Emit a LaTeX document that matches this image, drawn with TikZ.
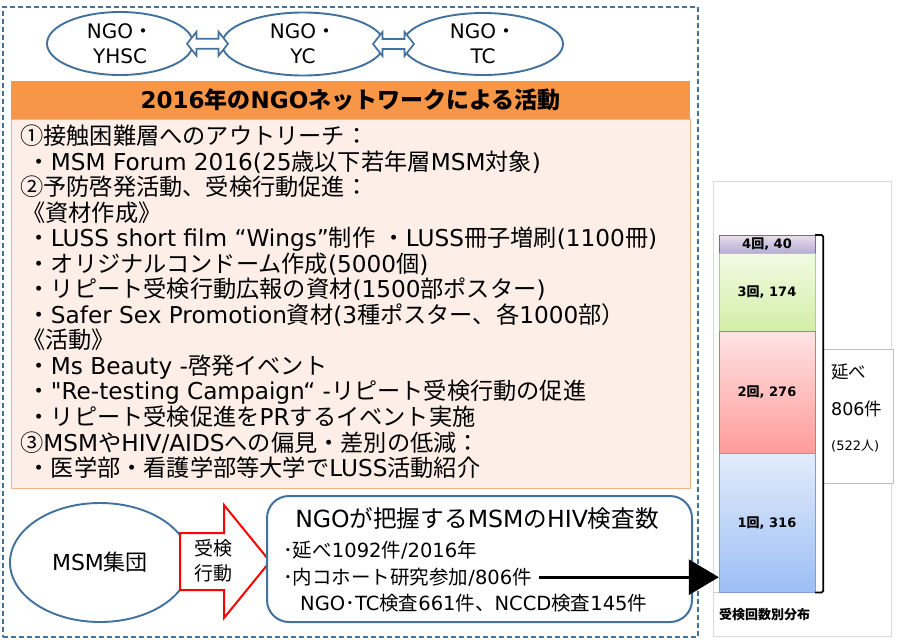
\documentclass[tikz,border=0pt]{standalone}
\usepackage{fontspec}
\setmainfont{DejaVu Sans}
\newfontfamily\plainlat{DejaVu Sans}
\newfontfamily\cjkfont{Noto Sans CJK JP}
\usetikzlibrary{shapes.geometric,arrows.meta,calc}
% automatic switch to the CJK font for CJK characters
\XeTeXinterchartokenstate=1
\newXeTeXintercharclass\cjkcls
\newcount\cjkcc
\def\setcjkrange#1#2{\cjkcc=#1\relax\loop\XeTeXcharclass\cjkcc=\cjkcls\relax\ifnum\cjkcc<#2\relax\advance\cjkcc by 1\repeat}
\setcjkrange{"2460}{"24FF}
\setcjkrange{"3000}{"30FF}
\setcjkrange{"3400}{"9FFF}
\setcjkrange{"FF00}{"FFEF}
\XeTeXinterchartoks 0 \cjkcls = {\cjkfont}
\XeTeXinterchartoks 4095 \cjkcls = {\cjkfont}
\XeTeXinterchartoks \cjkcls 0 = {\rmfamily}
\XeTeXinterchartoks \cjkcls 4095 = {\rmfamily}

\definecolor{nbl}{HTML}{41719C}
\definecolor{orng}{HTML}{F79646}
\definecolor{pinkbg}{HTML}{FDEEE8}
\definecolor{pinkbd}{HTML}{F4B183}
\definecolor{redar}{HTML}{FF0000}

\tikzset{
  ell/.style={ellipse, draw=nbl, line width=1.9pt, fill=white, inner sep=0pt},
  elltext/.style={align=center, inner sep=0pt, font=\fontsize{20}{25}\selectfont},
  dblarr/.style={draw=nbl, line width=1.7pt, fill=white, line join=miter},
  bodyline/.style={anchor=base west, inner sep=0pt, font=\fontsize{23.2}{26}\selectfont},
  boxline/.style={anchor=base west, inner sep=0pt, font=\fontsize{19.5}{23}\selectfont},
  seg/.style={draw, anchor=north, minimum width=96pt, inner sep=0pt, font=\bfseries\fontsize{13}{14}\selectfont},
  labtext/.style={anchor=west, inner sep=0pt},
}

\begin{document}
\begin{tikzpicture}[x=1pt,y=-1pt]
\useasboundingbox (0,0) rectangle (904,643);

% outer dashed frame
\node[draw=nbl, line width=1.8pt, dash pattern=on 5pt off 3pt, minimum width=695pt, minimum height=630pt, inner sep=0pt] (outer) at (350.5,322) {};

% NGO ellipses
\node[ell, minimum width=146pt, minimum height=63pt] (e1) at (120,43.5) {};
\node[ell, minimum width=162pt, minimum height=63pt] (e2) at (303,44) {};
\node[ell, minimum width=160pt, minimum height=62pt] (e3) at (483,44) {};
\node[elltext] (t1) at (e1.center) {NGO・\\YHSC};
\node[elltext] (t2) at (e2.center) {NGO・\\YC};
\node[elltext] (t3) at (e3.center) {NGO・\\TC};

% double arrows between ellipses
\coordinate (d1) at ($(e1.east)!0.5!(e2.west)$);
\coordinate (d2) at ($(e2.east)!0.5!(e3.west)$);
\foreach \d in {d1,d2}{
  \draw[dblarr] (\d) ++(-20.5,0) -- ++(9.5,-12) -- ++(0,7) -- ++(22,0) -- ++(0,-7)
     -- ++(9.5,12) -- ++(-9.5,12) -- ++(0,-7) -- ++(-22,0) -- ++(0,7) -- cycle;
}

% header and body box
\node[fill=orng, minimum width=679pt, minimum height=38pt, inner sep=0pt, anchor=north west,
      font=\bfseries\fontsize{23}{26}\selectfont] (hdr) at (11,81) {2016年のNGOネットワークによる活動};
\node[fill=pinkbg, draw=pinkbd, line width=1.2pt, minimum width=679pt, minimum height=369pt,
      inner sep=0pt, anchor=north west] (body) at (11,119) {};

\node[bodyline] (b1)  at (20,144.5) {①接触困難層へのアウトリーチ：};
\node[bodyline] (b2)  at (27.5,170) {・MSM Forum 2016(25歳以下若年層MSM対象)};
\node[bodyline] (b3)  at (20,195.6) {②予防啓発活動、受検行動促進：};
\node[bodyline] (b4)  at (22,221.1) {《資材作成》};
\node[bodyline] (b5)  at (27.5,246.7) {・LUSS short film “Wings”制作 ・LUSS冊子増刷(1100冊)};
\node[bodyline] (b6)  at (27.5,272.2) {・オリジナルコンドーム作成(5000個)};
\node[bodyline] (b7)  at (27.5,297.7) {・リピート受検行動広報の資材(1500部ポスター)};
\node[bodyline] (b8)  at (27.5,323.3) {・Safer Sex Promotion資材(3種ポスター、各1000部）};
\node[bodyline] (b9)  at (22,348.8) {《活動》};
\node[bodyline] (b10) at (27.5,374.4) {・Ms Beauty -啓発イベント};
\node[bodyline] (b11) at (27.5,399.9) {・{\plainlat "}Re-testing Campaign“ -リピート受検行動の促進};
\node[bodyline] (b12) at (27.5,425.4) {・リピート受検促進をPRするイベント実施};
\node[bodyline] (b13) at (20,451) {③MSMやHIV/AIDSへの偏見・差別の低減：};
\node[bodyline] (b14) at (27.5,476.5) {・医学部・看護学部等大学でLUSS活動紹介};

% MSM group ellipse
\node[ell, minimum width=180pt, minimum height=119pt, font=\fontsize{22}{26}\selectfont] (msm) at (100,562.5) {MSM集団};

% red block arrow
\coordinate (ra) at (180,561.5);
\draw[draw=redar, line width=2pt, fill=white, line join=miter] (ra) ++(0,-28.5) -- ++(44,0) -- ++(0,-28)
   -- ++(46,56.5) -- ++(-46,56.5) -- ++(0,-28) -- ++(-44,0) -- cycle;
\node[align=center, inner sep=0pt, font=\fontsize{19}{25}\selectfont] (act) at (213,561) {受検\\行動};

% rounded box with HIV test numbers
\node[draw=nbl, line width=2pt, rounded corners=22pt, fill=white, minimum width=425pt, minimum height=126pt, inner sep=0pt] (box) at (479.5,559) {};
\node[anchor=base, inner sep=0pt, font=\fontsize{23.6}{26}\selectfont] (bt) at (477,527.5) {NGOが把握するMSMのHIV検査数};
\node[boxline] (l1) at (283,557.5) {･延べ1092件/2016年};
\node[boxline] (l2) at (283,584.5) {･内コホート研究参加/806件};
\node[boxline] (l3) at (300,610.5) {NGO･TC検査661件、NCCD検査145件};

% chart panel
\node[draw=black!15, fill=white, minimum width=178pt, minimum height=455pt, inner sep=0pt] (panel) at (802,408.5) {};
\node[seg, draw={rgb,255:red,128;green,100;blue,162}, top color={rgb,255:red,230;green,224;blue,238}, bottom color={rgb,255:red,185;green,169;blue,211}, minimum height=18pt] (s4) at (767,235) {4回, 40};
\node[seg, draw={rgb,255:red,169;green,209;blue,142}, top color={rgb,255:red,242;green,251;blue,227}, bottom color={rgb,255:red,210;green,238;blue,168}, minimum height=78pt] (s3) at (767,253) {3回, 174};
\node[seg, draw={rgb,255:red,224;green,110;blue,110}, top color={rgb,255:red,255;green,227;blue,227}, bottom color={rgb,255:red,255;green,155;blue,155}, minimum height=122pt] (s2) at (767,331) {2回, 276};
\node[seg, draw={rgb,255:red,127;green,159;blue,212}, top color={rgb,255:red,227;green,236;blue,251}, bottom color={rgb,255:red,156;green,190;blue,245}, minimum height=139pt] (s1) at (767,453) {1回, 316};
\draw[black!20] (panel.west |- s1.south) -- (s1.south west);

% total label box and bracket
\node[draw=black!25, fill=white, minimum width=70pt, minimum height=134pt, inner sep=0pt] (lab) at (858,416) {};
\draw[line width=1.8pt, rounded corners=1.5pt] (s4.north east) -- ++(8,0) |- (s1.south east);
\node[labtext, font=\fontsize{17.5}{20}\selectfont] (lt1) at (831,372) {延べ};
\node[labtext, font=\fontsize{17.5}{20}\selectfont] (lt2) at (831,409) {806件};
\node[labtext, font=\fontsize{13}{15}\selectfont] (lt3) at (831,446) {(522人)};
\node[labtext, font=\bfseries\fontsize{13}{15}\selectfont] (cap) at (719,615) {受検回数別分布};

% black arrow to the chart
\draw[line width=3pt, -{Triangle[length=30pt,width=35pt]}] ([xshift=7pt]l2.east) -- (l2.east -| s1.west);
\end{tikzpicture}
\end{document}
